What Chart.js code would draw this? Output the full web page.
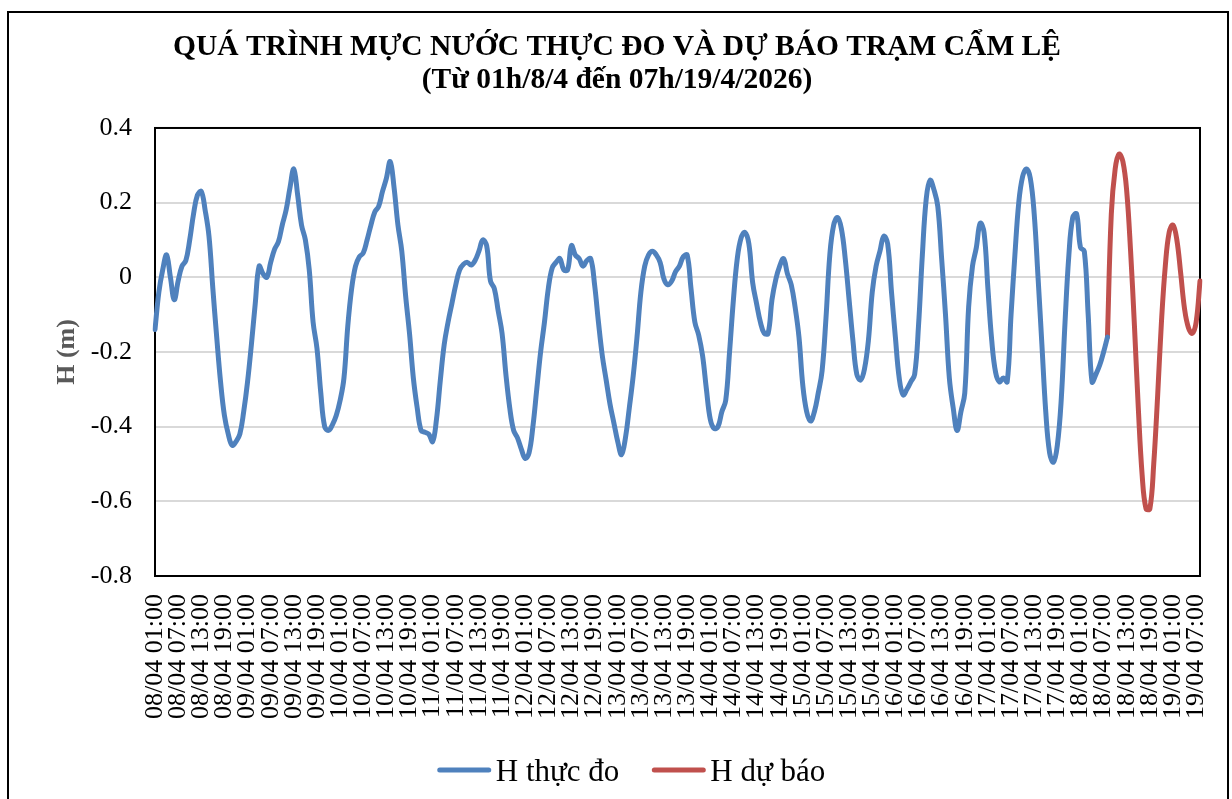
<!DOCTYPE html>
<html><head><meta charset="utf-8">
<script src="https://cdn.jsdelivr.net/npm/chart.js@4.4.1/dist/chart.umd.min.js"></script>
<style>html,body{margin:0;padding:0;background:#fff}#wrap{width:1232px;height:799px;position:relative}</style>
</head><body><div id="wrap"><canvas id="c" width="1232" height="799"></canvas></div>
<script>
const titleLines = ['QUÁ TRÌNH MỰC NƯỚC THỰC ĐO VÀ DỰ BÁO TRẠM CẨM LỆ', '(Từ 01h/8/4 đến 07h/19/4/2026)'];
const yAxisTitle = 'H (m)';
const seriesNames = ['H thực đo', 'H dự báo'];
const startDay = 8, startMonth = 4, startHour = 1, hourCount = 272;
const yTicks = {min: -0.8, max: 0.4, step: 0.2};

// Observed water level (hourly, from 08/04 01:00)
const observed = [
 -0.14,-0.04,0.02,0.06,0.00,-0.06,-0.01,0.03,0.045,0.10,
 0.17,0.22,0.23,0.18,0.11,-0.03,-0.16,-0.28,-0.37,-0.42,
 -0.45,-0.44,-0.42,-0.36,-0.28,-0.18,-0.07,0.03,0.01,0.00,
 0.04,0.075,0.095,0.14,0.18,0.24,0.29,0.22,0.14,0.10,
 0.02,-0.12,-0.19,-0.31,-0.40,-0.41,-0.395,-0.37,-0.33,-0.27,
 -0.13,-0.03,0.03,0.055,0.065,0.10,0.14,0.175,0.19,0.23,
 0.265,0.31,0.24,0.14,0.07,-0.05,-0.15,-0.27,-0.35,-0.41,
 -0.415,-0.42,-0.44,-0.38,-0.275,-0.18,-0.12,-0.07,-0.02,0.02,
 0.035,0.04,0.033,0.045,0.07,0.10,0.085,-0.01,-0.03,-0.09,
 -0.15,-0.26,-0.35,-0.41,-0.43,-0.46,-0.485,-0.47,-0.40,-0.30,
 -0.20,-0.12,-0.03,0.025,0.04,0.05,0.02,0.02,0.085,0.06,
 0.05,0.03,0.045,0.05,-0.02,-0.12,-0.21,-0.275,-0.34,-0.39,
 -0.44,-0.475,-0.43,-0.35,-0.265,-0.16,-0.04,0.03,0.06,0.07,
 0.06,0.04,-0.005,-0.02,-0.01,0.015,0.03,0.055,0.06,-0.03,
 -0.12,-0.155,-0.21,-0.30,-0.38,-0.405,-0.40,-0.36,-0.33,-0.20,
 -0.06,0.05,0.106,0.12,0.09,-0.015,-0.07,-0.12,-0.15,-0.15,
 -0.06,-0.005,0.03,0.05,0.01,-0.02,-0.08,-0.16,-0.29,-0.36,
 -0.385,-0.36,-0.31,-0.25,-0.11,0.06,0.14,0.16,0.13,0.05,
 -0.06,-0.17,-0.26,-0.275,-0.245,-0.17,-0.04,0.03,0.07,0.11,
 0.09,-0.04,-0.16,-0.27,-0.315,-0.30,-0.28,-0.26,-0.13,0.06,
 0.21,0.26,0.235,0.19,0.05,-0.10,-0.27,-0.35,-0.41,-0.36,
 -0.31,-0.08,0.03,0.08,0.145,0.12,-0.03,-0.17,-0.255,-0.28,
 -0.27,-0.28,-0.10,0.06,0.20,0.27,0.29,0.265,0.17,0.00,
 -0.18,-0.36,-0.47,-0.495,-0.45,-0.33,-0.12,0.06,0.16,0.17,
 0.08,0.07,-0.10,-0.28,-0.26,-0.235,-0.20,-0.16
];
// Forecast water level (hourly, starting where observed ends)
const forecastStart = 247;
const forecast = [
 -0.16,0.17,0.29,0.33,0.31,0.23,0.07,-0.13,-0.35,-0.53,
 -0.62,-0.62,-0.50,-0.32,-0.12,0.03,0.12,0.14,0.10,0.01,
 -0.085,-0.135,-0.15,-0.12,-0.01
];

const pad2 = n => String(n).padStart(2, '0');
const labels = [];
for (let i = 0; i < hourCount; i++) {
  const tot = startHour + i;
  const d = startDay + Math.floor(tot / 24), h = tot % 24;
  labels.push(pad2(d) + '/' + pad2(startMonth) + ' ' + pad2(h) + ':00');
}
const forecastData = new Array(forecastStart).fill(null).concat(forecast);

const FONT = "'Liberation Serif', 'Times New Roman', serif";

const framePlugin = {
  id: 'frame',
  beforeDraw(chart) {
    const ctx = chart.ctx;
    ctx.save();
    ctx.fillStyle = '#fff';
    ctx.fillRect(0, 0, chart.width, chart.height);
    ctx.strokeStyle = '#000';
    ctx.lineWidth = 2;
    ctx.strokeRect(8, 12, 1220, 800);
    ctx.restore();
  },
  beforeDatasetsDraw(chart) {
    const {ctx, chartArea: a} = chart;
    ctx.save();
    ctx.strokeStyle = '#000';
    ctx.lineWidth = 2;
    ctx.strokeRect(a.left, a.top, a.right - a.left, a.bottom - a.top);
    ctx.restore();
  }
};

const legendPlugin = {
  id: 'lineLegend',
  afterDraw(chart) {
    const ctx = chart.ctx;
    ctx.save();
    ctx.font = '31px ' + FONT;
    const lineLen = 55, gap = 4, itemGap = 32, cx = 631, cy = 770;
    const items = chart.data.datasets.map(d => ({label: d.label, color: d.borderColor, w: ctx.measureText(d.label).width}));
    const total = items.reduce((s, it) => s + lineLen + gap + it.w, 0) + itemGap * (items.length - 1);
    let x = cx - total / 2;
    items.forEach(it => {
      ctx.strokeStyle = it.color; ctx.lineWidth = 5; ctx.lineCap = 'round';
      ctx.beginPath(); ctx.moveTo(x + 3, cy); ctx.lineTo(x + lineLen - 3, cy); ctx.stroke();
      x += lineLen + gap;
      ctx.fillStyle = '#000'; ctx.textBaseline = 'alphabetic';
      ctx.fillText(it.label, x, cy + 10.5);
      x += it.w + itemGap;
    });
    ctx.restore();
  }
};

new Chart(document.getElementById('c'), {
  type: 'line',
  data: {
    labels: labels,
    datasets: [
      {label: seriesNames[0], data: observed, borderColor: '#4f81bd', backgroundColor: '#4f81bd', borderWidth: 5, pointRadius: 0, tension: 0.4, fill: false, borderCapStyle: 'round', borderJoinStyle: 'round'},
      {label: seriesNames[1], data: forecastData, borderColor: '#c0504d', backgroundColor: '#c0504d', borderWidth: 5, pointRadius: 0, tension: 0.4, fill: false, borderCapStyle: 'round', borderJoinStyle: 'round'}
    ]
  },
  options: {
    responsive: false,
    animation: false,
    devicePixelRatio: 1,
    layout: {padding: {top: 12, left: 34, right: 32, bottom: 0}},
    plugins: {
      legend: {display: false},
      tooltip: {enabled: false},
      title: {display: true, text: titleLines, color: '#000', font: {family: FONT, size: 29.5, weight: 'bold', lineHeight: 1.12}, padding: {top: 18.5, bottom: 31.4}}
    },
    scales: {
      x: {
        type: 'category',
        grid: {display: false, drawTicks: false},
        border: {display: false},
        ticks: {
          autoSkip: false, maxRotation: 90, minRotation: 90, padding: 18,
          color: '#000', font: {family: FONT, size: 26},
          callback: function(v, i) { return i % 6 === 0 ? this.getLabelForValue(v) : null; }
        },
        afterFit(scale) { scale.height = 223; scale.paddingLeft = 0; scale.paddingRight = 0; }
      },
      y: {
        min: yTicks.min, max: yTicks.max,
        grid: {color: '#d9d9d9', lineWidth: 2, drawTicks: false},
        border: {display: false},
        ticks: {stepSize: yTicks.step, padding: 23, color: '#000', font: {family: FONT, size: 26},
          callback: v => String(Math.round(v * 10) / 10)},
        title: {display: true, text: yAxisTitle, color: '#595959', font: {family: FONT, size: 26, weight: 'bold'}, padding: {top: 17.4, bottom: 0}},
        afterFit(scale) { scale.width = 121; scale.paddingTop = 0; scale.paddingBottom = 0; }
      }
    }
  },
  plugins: [framePlugin, legendPlugin]
});
</script></body></html>
